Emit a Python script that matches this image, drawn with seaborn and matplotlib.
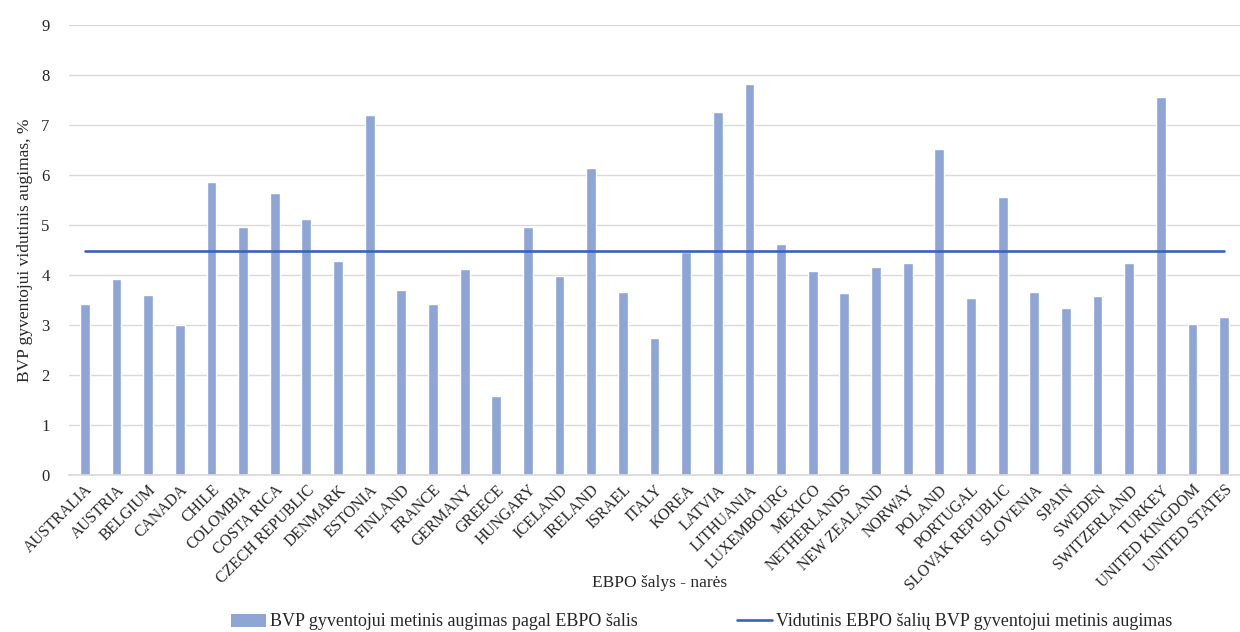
import matplotlib
matplotlib.use("Agg")
import matplotlib.pyplot as plt
import seaborn as sns
import pandas as pd
from matplotlib.patches import Patch
from matplotlib.lines import Line2D

countries = ["AUSTRALIA", "AUSTRIA", "BELGIUM", "CANADA", "CHILE", "COLOMBIA", "COSTA RICA",
             "CZECH REPUBLIC", "DENMARK", "ESTONIA", "FINLAND", "FRANCE", "GERMANY", "GREECE",
             "HUNGARY", "ICELAND", "IRELAND", "ISRAEL", "ITALY", "KOREA", "LATVIA", "LITHUANIA",
             "LUXEMBOURG", "MEXICO", "NETHERLANDS", "NEW ZEALAND", "NORWAY", "POLAND", "PORTUGAL",
             "SLOVAK REPUBLIC", "SLOVENIA", "SPAIN", "SWEDEN", "SWITZERLAND", "TURKEY",
             "UNITED KINGDOM", "UNITED STATES"]
growth = [3.42, 3.93, 3.61, 3.00, 5.86, 4.96, 5.64, 5.12, 4.29, 7.21, 3.71, 3.42, 4.13, 1.59,
          4.96, 3.99, 6.15, 3.67, 2.74, 4.47, 7.27, 7.82, 4.61, 4.09, 3.64, 4.16, 4.25, 6.53,
          3.55, 5.57, 3.67, 3.35, 3.58, 4.25, 7.57, 3.03, 3.16]
average = 4.49

bar_label = "BVP gyventojui metinis augimas pagal EBPO šalis"
line_label = "Vidutinis EBPO šalių BVP gyventojui metinis augimas"
x_title = "EBPO šalys - narės"
y_title = "BVP gyventojui vidutinis augimas, %"
y_ticks = [0, 1, 2, 3, 4, 5, 6, 7, 8, 9]

sns.set_theme(style="white")
plt.rcParams["font.family"] = ["Liberation Serif", "DejaVu Serif"]

df = pd.DataFrame({"country": countries, "growth": growth, "avg": [average] * len(countries)})

bar_color = "#8FA5D5"
line_color = "#3A63B3"
text_color = "#262626"

fig = plt.figure(figsize=(12.4, 6.32), dpi=100)
ax = fig.add_axes([69 / 1240, 157 / 632, 1171 / 1240, 450 / 632])

sns.barplot(data=df, x="country", y="growth", color=bar_color, width=0.31,
            saturation=1, ax=ax, zorder=2)
sns.lineplot(data=df, x="country", y="avg", color=line_color, linewidth=1.9, ax=ax, zorder=3)

ax.set_ylim(0, 9)
ax.set_xlim(-0.5, len(countries) - 0.5)
ax.set_yticks(y_ticks)
ax.set_yticklabels([str(t) for t in y_ticks], fontsize=12)
ax.yaxis.grid(True, color="#D9D9D9", linewidth=1.0, zorder=0)
ax.set_axisbelow(True)
for s in ["top", "right", "left"]:
    ax.spines[s].set_visible(False)
ax.spines["bottom"].set_color("#D9D9D9")
ax.tick_params(axis="both", length=0, colors=text_color)
ax.tick_params(axis="y", pad=14)
ax.tick_params(axis="x", pad=5)
plt.setp(ax.get_xticklabels(), rotation=45, ha="right", rotation_mode="anchor", fontsize=11.3)
ax.set_xlabel(x_title, fontsize=12.5, color=text_color)
ax.xaxis.set_label_coords((660 - 69) / 1171, -100 / 450)
ax.set_ylabel(y_title, fontsize=12.5, color=text_color, labelpad=6)

handles = [Patch(facecolor=bar_color, edgecolor="none"),
           Line2D([0], [0], color=line_color, linewidth=1.9)]
fig.legend(handles, [bar_label, line_label], loc="center", bbox_to_anchor=(0.566, 10 / 632),
           ncol=2, frameon=False, fontsize=13, columnspacing=5.5, handlelength=1.9,
           handletextpad=0.25, labelcolor=text_color, borderpad=0)

fig.savefig("out.png", dpi=100)
